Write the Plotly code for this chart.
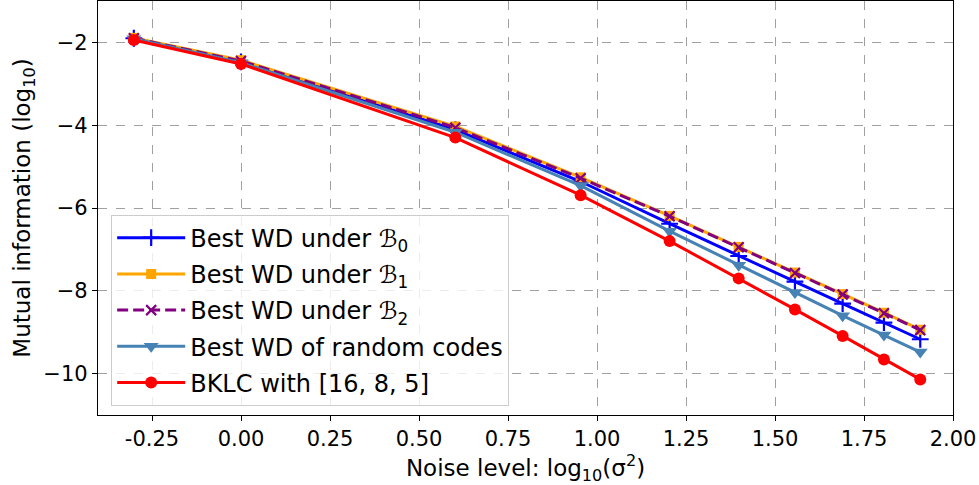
import plotly.graph_objects as go

noise_log = [-0.301, 0.0, 0.602, 0.954, 1.204, 1.398, 1.556, 1.690, 1.806, 1.908]

wd_b0 = [-1.90, -2.47, -4.11, -5.36, -6.38, -7.16, -7.78, -8.31, -8.77, -9.17]
wd_b1 = [-1.89, -2.43, -4.03, -5.26, -6.19, -6.94, -7.56, -8.08, -8.53, -8.94]
wd_b2 = [-1.90, -2.45, -4.06, -5.28, -6.20, -6.95, -7.57, -8.09, -8.54, -8.95]
wd_random = [-1.91, -2.49, -4.17, -5.46, -6.56, -7.38, -8.04, -8.60, -9.07, -9.48]
bklc = [-1.94, -2.52, -4.30, -5.69, -6.80, -7.70, -8.45, -9.09, -9.66, -10.14]

x_tickvals = [-0.25, 0.0, 0.25, 0.5, 0.75, 1.0, 1.25, 1.5, 1.75, 2.0]
x_ticktext = ["-0.25", "0.00", "0.25", "0.50", "0.75", "1.00", "1.25", "1.50", "1.75", "2.00"]
y_tickvals = [-10, -8, -6, -4, -2]

FONT = "DejaVu Sans, Arial, sans-serif"

fig = go.Figure()

series = [
    ("Best WD under ℬ<sub>0</sub>", wd_b0, "blue", "cross-thin", 12, "solid"),
    ("Best WD under ℬ<sub>1</sub>", wd_b1, "orange", "square", 10, "solid"),
    ("Best WD under ℬ<sub>2</sub>", wd_b2, "purple", "x-thin", 10, "11px,5px"),
    ("Best WD of random codes", wd_random, "steelblue", "triangle-down", 13, "solid"),
    ("BKLC with [16, 8, 5]", bklc, "red", "circle", 12, "solid"),
]

for i, (name, ys, col, sym, sz, dash) in enumerate(series):
    fig.add_trace(go.Scatter(
        x=noise_log, y=ys, name=name, mode="lines+markers",
        legendgroup=f"g{i}",
        line=dict(color=col, width=3, dash=dash),
        marker=dict(symbol=sym, size=sz, color=col,
                    line=dict(color=col, width=2.2 if "thin" in sym else 0)),
    ))

axis_common = dict(
    showgrid=True, gridcolor="rgba(128,128,128,0.75)", griddash="dash", gridwidth=1,
    showline=True, linecolor="black", linewidth=1.2, mirror=True,
    ticks="outside", ticklen=5, tickcolor="black", tickwidth=1.2,
    zeroline=False, automargin=False,
    tickfont=dict(family=FONT, size=21, color="black"),
)

fig.update_layout(
    width=979, height=485,
    paper_bgcolor="white", plot_bgcolor="white",
    margin=dict(l=98, r=26, t=1, b=70),
    font=dict(family=FONT, color="black"),
    xaxis=dict(
        range=[-0.4017, 2.0], tickvals=x_tickvals, ticktext=x_ticktext,
        title=dict(text="Noise level: log<sub>10</sub>(σ<sup>2</sup>)",
                   font=dict(family=FONT, size=23), standoff=0),
        **axis_common,
    ),
    yaxis=dict(
        range=[-11, -1], tickvals=y_tickvals,
        title=dict(text="Mutual information (log<sub>10</sub>)",
                   font=dict(family=FONT, size=23), standoff=6),
        **axis_common,
    ),
    legend=dict(
        x=0.0154, y=0.484, xanchor="left", yanchor="top",
        bgcolor="rgba(255,255,255,0.8)", bordercolor="#cccccc", borderwidth=1,
        font=dict(family=FONT, size=24, color="black"),
        itemwidth=68, tracegroupgap=2,
    ),
    showlegend=True,
)

fig.write_html("out.html", config={"displayModeBar": False},
               post_script="document.body.style.margin='0';")
